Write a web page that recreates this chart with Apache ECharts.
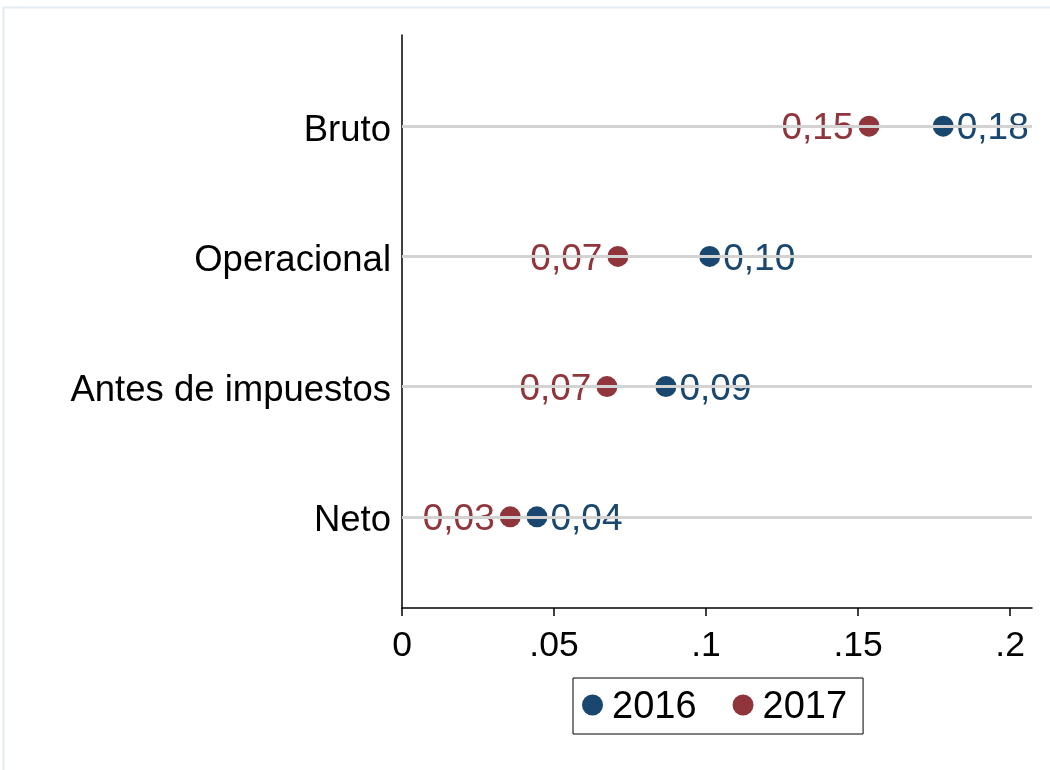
<!DOCTYPE html>
<html>
<head>
<meta charset="utf-8">
<script src="https://cdn.jsdelivr.net/npm/echarts@6/dist/echarts.min.js"></script>
<style>
  html, body { margin: 0; padding: 0; background: #fff; }
  #main { width: 1050px; height: 770px; }
</style>
</head>
<body>
<div id="main"></div>
<script>
// categorias (de arriba hacia abajo)
var categories = ['Bruto', 'Operacional', 'Antes de impuestos', 'Neto'];
var years = ['2016', '2017'];
var values2016 = [0.178, 0.1012, 0.0868, 0.0444];
var values2017 = [0.1536, 0.0710, 0.0674, 0.0356];
var labels2016 = ['0,18', '0,10', '0,09', '0,04'];
var labels2017 = ['0,15', '0,07', '0,07', '0,03'];
var xTickValues = [0, 0.05, 0.1, 0.15, 0.2];
var xTickLabels = ['0', '.05', '.1', '.15', '.2'];

var blue = '#1a476f';
var red = '#90353b';
var font = "'Liberation Sans', Arial, sans-serif";

function toPoints(vals) {
  var out = [];
  for (var i = 0; i < vals.length; i++) out.push([vals[i], i]);
  return out;
}

var catIdx = categories.map(function (c, i) { return i; });

var myChart = echarts.init(document.getElementById('main'));

var option = {
  backgroundColor: '#fff',
  animation: false,
  textStyle: { fontFamily: font },
  graphic: [{
    type: 'rect',
    silent: true,
    shape: { x: 3.5, y: 7.5, width: 1100, height: 800 },
    style: { fill: 'none', stroke: '#e4ebf0', lineWidth: 2 }
  }],
  grid: { left: 402, right: 18, top: 35, bottom: 162 },
  legend: {
    data: years,
    left: 573,
    top: 678,
    orient: 'horizontal',
    icon: 'circle',
    itemWidth: 21,
    itemHeight: 21,
    itemGap: 36,
    padding: [11, 16, 7, 9],
    borderColor: '#000',
    borderWidth: 1,
    formatter: function (n) { return '{t|' + n + '}'; },
    textStyle: {
      fontSize: 38, color: '#000', fontFamily: font,
      rich: { t: { fontSize: 38, color: '#000', fontFamily: font, padding: [6, 0, 0, 4] } }
    }
  },
  xAxis: {
    type: 'value',
    min: 0,
    max: 0.2072,
    interval: 0.05,
    axisLine: { show: true, onZero: false, lineStyle: { color: '#000', width: 1.5 } },
    axisTick: { show: true, length: 8, customValues: xTickValues, lineStyle: { color: '#000', width: 1.5 } },
    axisLabel: {
      customValues: xTickValues,
      fontSize: 35.5,
      color: '#000',
      margin: 20,
      fontFamily: font,
      formatter: function (v) {
        var k = xTickValues.indexOf(v);
        return k >= 0 ? xTickLabels[k] : '';
      }
    },
    splitLine: { show: false }
  },
  yAxis: {
    type: 'value',
    inverse: true,
    min: -0.7,
    max: 3.7,
    axisLine: { show: true, onZero: false, lineStyle: { color: '#000', width: 1.5 } },
    axisTick: { show: false },
    axisLabel: {
      customValues: catIdx,
      fontSize: 36.5,
      color: '#000',
      margin: 11,
      fontFamily: font,
      formatter: function (v) { return '{c|' + (categories[v] || '') + '}'; },
      rich: { c: { fontSize: 36.5, color: '#000', fontFamily: font, padding: [9, 0, 0, 0] } }
    },
    splitLine: { show: false }
  },
  series: [
    {
      name: 'grid',
      type: 'line',
      data: [],
      z: 1,
      silent: true,
      markLine: {
        silent: true,
        symbol: ['none', 'none'],
        label: { show: false },
        lineStyle: { color: '#d3d3d3', width: 3, type: 'solid' },
        data: catIdx.map(function (i) { return { yAxis: i }; })
      }
    },
    {
      name: '2016',
      type: 'scatter',
      z: 3,
      symbol: 'circle',
      symbolSize: 21,
      itemStyle: { color: blue, opacity: 1 },
      data: toPoints(values2016),
      label: {
        show: true,
        position: 'right',
        distance: 3,
        offset: [0, 3],
        fontSize: 37,
        color: blue,
        fontFamily: font,
        formatter: function (p) { return labels2016[p.dataIndex]; }
      }
    },
    {
      name: '2017',
      type: 'scatter',
      z: 3,
      symbol: 'circle',
      symbolSize: 21,
      itemStyle: { color: red, opacity: 1 },
      data: toPoints(values2017),
      label: {
        show: true,
        position: 'left',
        distance: 5,
        offset: [0, 3],
        fontSize: 37,
        color: red,
        fontFamily: font,
        formatter: function (p) { return labels2017[p.dataIndex]; }
      }
    }
  ]
};

myChart.setOption(option);
</script>
</body>
</html>
